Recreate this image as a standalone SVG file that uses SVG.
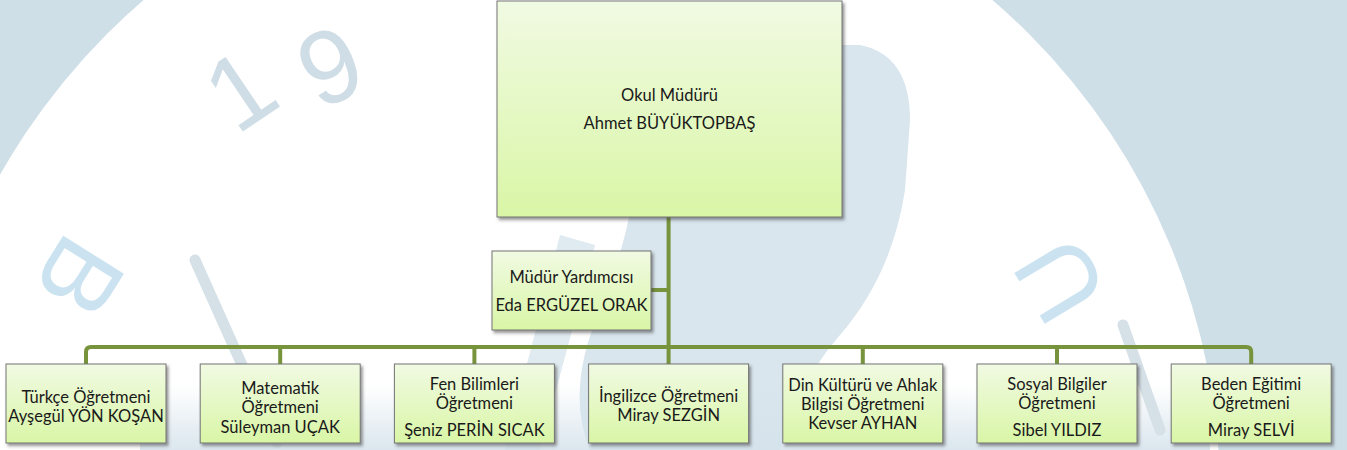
<svg xmlns="http://www.w3.org/2000/svg" width="1347" height="450" viewBox="0 0 1347 450">
<defs>
<linearGradient id="boxFill" x1="0" y1="0" x2="0" y2="1">
<stop offset="0" stop-color="#f1fae3"/>
<stop offset="1" stop-color="#d9f6a6"/>
</linearGradient>
<linearGradient id="bottomWash" x1="0" y1="0" x2="0" y2="1">
<stop offset="0" stop-color="#d4e2eb" stop-opacity="0"/>
<stop offset="1" stop-color="#d4e2eb" stop-opacity="0.85"/>
</linearGradient>
<filter id="shadow" x="-10%" y="-10%" width="125%" height="130%">
<feDropShadow dx="2" dy="2.5" stdDeviation="1.5" flood-color="#404040" flood-opacity="0.55"/>
</filter>
<style>
.box{fill:url(#boxFill);stroke:#747474;stroke-width:1;filter:url(#shadow)}
.lbl{font-family:Lato,"Liberation Sans",sans-serif;font-size:16.5px;fill:#1a1a1a;text-anchor:middle}
.conn{fill:none;stroke:#77933c;stroke-width:4}
.wm{font-family:"Liberation Sans",sans-serif;font-size:104px;text-anchor:middle;dominant-baseline:central}
.dig{fill:#cfdde6}
.let{fill:#cbe3f1}
</style>
</defs>
<g id="background">
<rect x="0" y="0" width="1347" height="450" fill="#cfdfe8"/>
<circle cx="568" cy="495" r="652" fill="#ffffff"/>
<path d="M700,45 L860,45 Q910,55 910,120 L905,190 Q892,275 840,335 Q800,380 780,450 L590,450 Q565,390 600,310 Q630,240 640,150 Z" fill="#d9e6ee"/>
<path d="M560,235 L595,245 L540,450 L505,450 Z" fill="#dfeaf1"/>
<rect x="140" y="385" width="1070" height="65" fill="url(#bottomWash)"/>
<line x1="195" y1="260" x2="277" y2="443" stroke="#d5e0e7" stroke-width="11" stroke-linecap="round"/>
<line x1="1123" y1="325" x2="1160" y2="430" stroke="#d5e0e7" stroke-width="11" stroke-linecap="round"/>
<text class="wm dig" x="240" y="90" transform="rotate(-34 240 90)">1</text>
<text class="wm dig" x="330" y="66" transform="rotate(-24 330 66)">9</text>
<text class="wm let" x="80" y="277" transform="rotate(122 80 277)">B</text>
<text class="wm let" x="1060" y="280" transform="rotate(-121 1060 280)">U</text>
</g>
<g id="connectors">
<path class="conn" d="M668.6,217 V364"/>
<path class="conn" d="M651,290 H668.6"/>
<path class="conn" d="M86,364 V352 Q86,347 91,347 H1246.2 Q1251.2,347 1251.2,352 V364"/>
<path class="conn" d="M280.2,347 V364 M474.4,347 V364 M862.8,347 V364 M1057,347 V364"/>
</g>
<g id="n-mudur">
<rect class="box" x="497" y="1" width="345" height="216"/>
<text class="lbl" x="669.5" y="101">Okul Müdürü</text>
<text class="lbl" x="669.5" y="129">Ahmet BÜYÜKTOPBAŞ</text>
</g>
<g id="n-yardimci">
<rect class="box" x="492" y="251" width="159" height="79"/>
<text class="lbl" x="571.5" y="283">Müdür Yardımcısı</text>
<text class="lbl" x="571.5" y="311">Eda ERGÜZEL ORAK</text>
</g>
<g id="n-turkce">
<rect class="box" x="6" y="364" width="160" height="79"/>
<text class="lbl" x="86" y="403">Türkçe Öğretmeni</text>
<text class="lbl" x="86" y="422">Ayşegül YÖN KOŞAN</text>
</g>
<g id="n-matematik">
<rect class="box" x="200.2" y="364" width="160" height="79"/>
<text class="lbl" x="280.2" y="394">Matematik</text>
<text class="lbl" x="280.2" y="413">Öğretmeni</text>
<text class="lbl" x="280.2" y="433">Süleyman UÇAK</text>
</g>
<g id="n-fen">
<rect class="box" x="394.4" y="364" width="160" height="79"/>
<text class="lbl" x="474.4" y="390">Fen Bilimleri</text>
<text class="lbl" x="474.4" y="409">Öğretmeni</text>
<text class="lbl" x="474.4" y="436">Şeniz PERİN SICAK</text>
</g>
<g id="n-ingilizce">
<rect class="box" x="588.6" y="364" width="160" height="79"/>
<text class="lbl" x="668.6" y="402">İngilizce Öğretmeni</text>
<text class="lbl" x="668.6" y="421">Miray SEZGİN</text>
</g>
<g id="n-din">
<rect class="box" x="782.8" y="364" width="160" height="79"/>
<text class="lbl" x="862.8" y="391">Din Kültürü ve Ahlak</text>
<text class="lbl" x="862.8" y="410">Bilgisi Öğretmeni</text>
<text class="lbl" x="862.8" y="429">Kevser AYHAN</text>
</g>
<g id="n-sosyal">
<rect class="box" x="977" y="364" width="160" height="79"/>
<text class="lbl" x="1057" y="390">Sosyal Bilgiler</text>
<text class="lbl" x="1057" y="409">Öğretmeni</text>
<text class="lbl" x="1057" y="436">Sibel YILDIZ</text>
</g>
<g id="n-beden">
<rect class="box" x="1171.2" y="364" width="160" height="79"/>
<text class="lbl" x="1251.2" y="390">Beden Eğitimi</text>
<text class="lbl" x="1251.2" y="409">Öğretmeni</text>
<text class="lbl" x="1251.2" y="436">Miray SELVİ</text>
</g>
</svg>
